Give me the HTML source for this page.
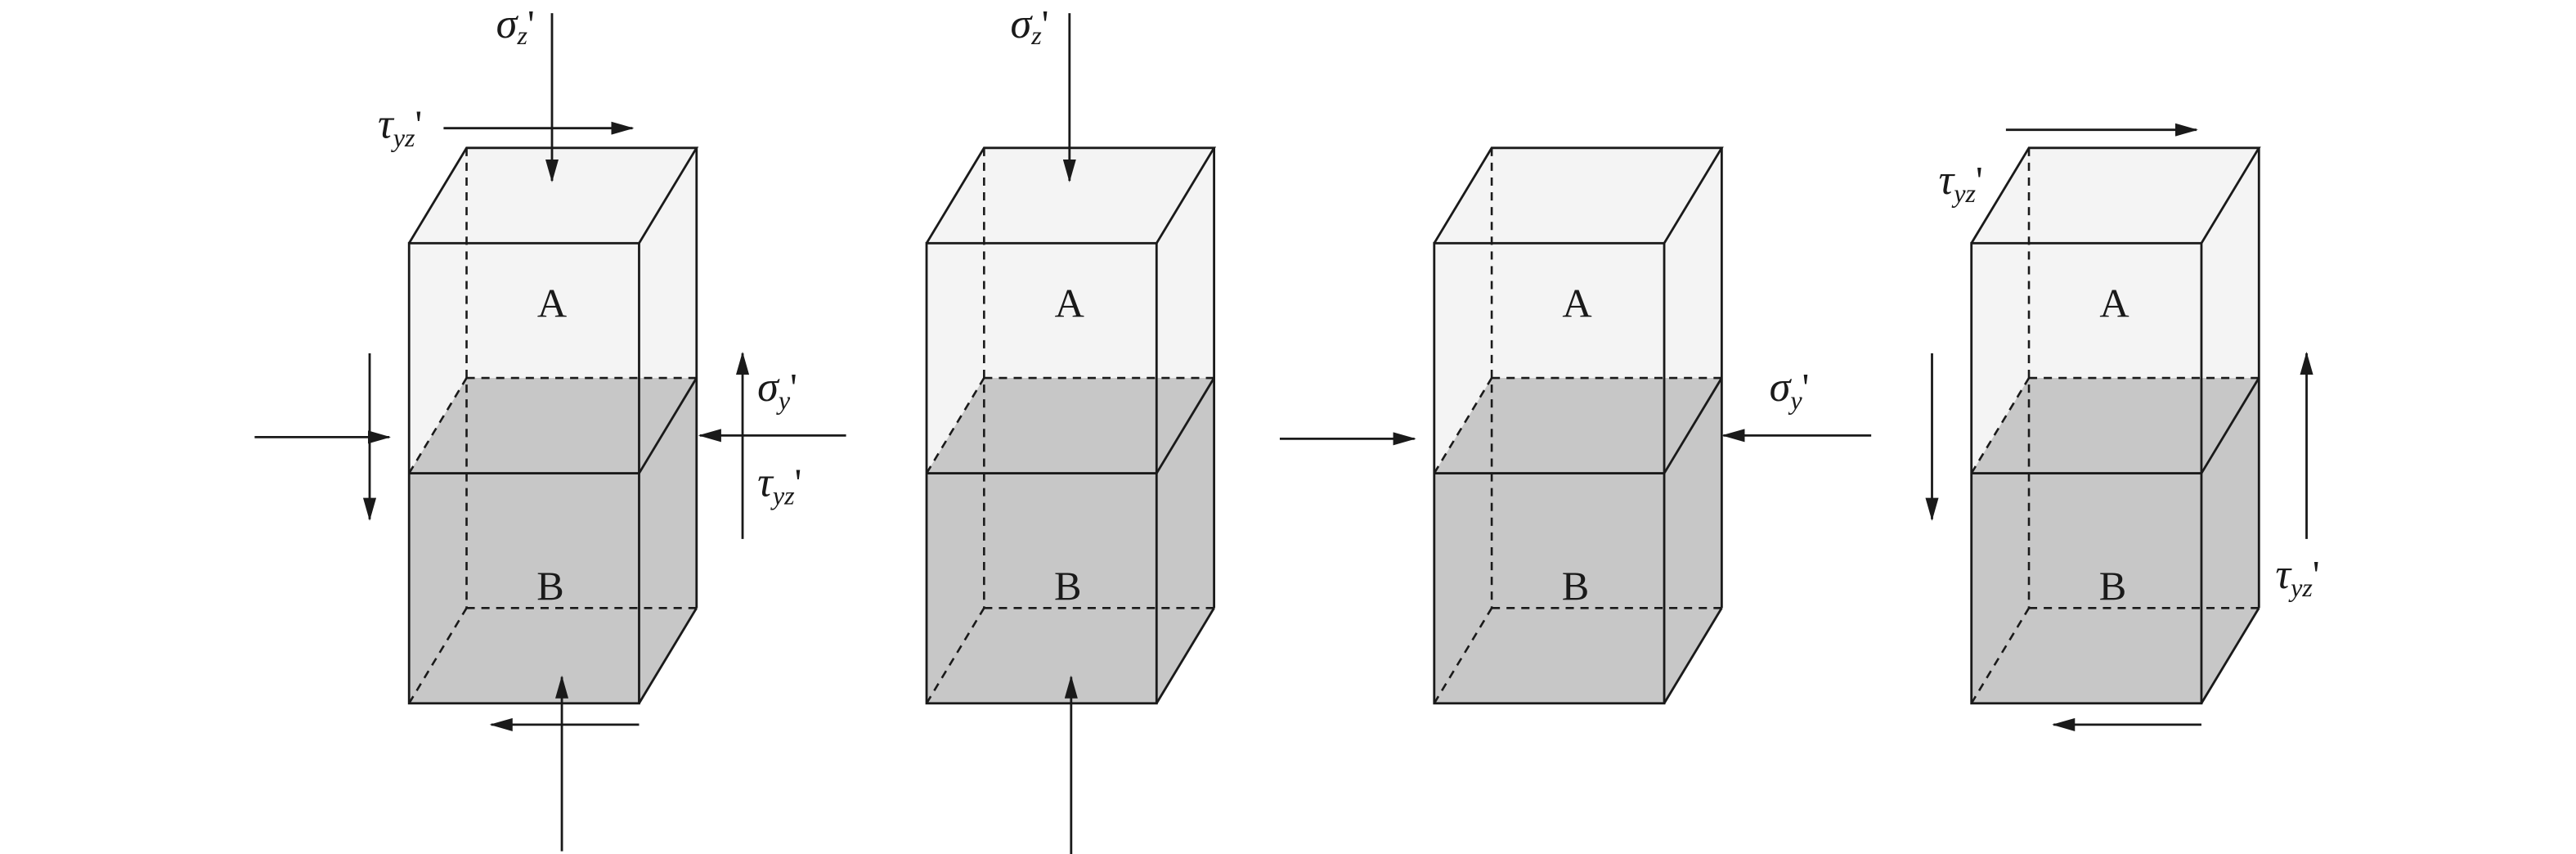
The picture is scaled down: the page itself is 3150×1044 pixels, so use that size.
<!DOCTYPE html>
<html><head><meta charset="utf-8"><style>
html,body{margin:0;padding:0;background:#fff;}
svg{display:block;}
text{font-family:"Liberation Serif",serif;fill:#1a1a1a;}
</style></head><body>
<svg width="3150" height="1044" viewBox="0 0 1568 519.7" preserveAspectRatio="none" xmlns="http://www.w3.org/2000/svg">
<defs>
<marker id="ah" markerWidth="14" markerHeight="8" refX="13" refY="4" orient="auto" markerUnits="userSpaceOnUse">
<path d="M0,0 L14,4 L0,8 Z" fill="#1a1a1a"/>
</marker>
<g id="box">
  <polygon points="0,148 140,148 140,288 0,288" fill="#f4f4f4"/>
  <polygon points="0,148 35,90 175,90 140,148" fill="#f4f4f4"/>
  <polygon points="140,148 175,90 175,230 140,288" fill="#f4f4f4"/>
  <polygon points="0,288 140,288 140,428 0,428" fill="#c7c7c7"/>
  <polygon points="0,288 35,230 175,230 140,288" fill="#c7c7c7"/>
  <polygon points="140,288 175,230 175,370 140,428" fill="#c7c7c7"/>
  <g stroke="#1a1a1a" stroke-width="1.3" fill="none" stroke-dasharray="5,4">
    <line x1="35" y1="90" x2="35" y2="370"/>
    <line x1="35" y1="230" x2="175" y2="230"/>
    <line x1="35" y1="370" x2="175" y2="370"/>
    <line x1="0" y1="288" x2="35" y2="230"/>
    <line x1="0" y1="428" x2="35" y2="370"/>
  </g>
  <g stroke="#1a1a1a" stroke-width="1.4" fill="none">
    <rect x="0" y="148" width="140" height="280"/>
    <line x1="0" y1="288" x2="140" y2="288"/>
    <polyline points="0,148 35,90 175,90 140,148"/>
    <line x1="175" y1="90" x2="175" y2="370"/>
    <line x1="140" y1="288" x2="175" y2="230"/>
    <line x1="140" y1="428" x2="175" y2="370"/>
  </g>
  <text x="87" y="193" font-size="25" text-anchor="middle">A</text>
  <text x="86" y="365" font-size="25" text-anchor="middle">B</text>
</g>
</defs>

<use href="#box" x="249"/>
<use href="#box" x="564"/>
<use href="#box" x="873"/>
<use href="#box" x="1200"/>

<g stroke="#1a1a1a" stroke-width="1.4" fill="none" marker-end="url(#ah)">
  <line x1="336" y1="8" x2="336" y2="110"/>
  <line x1="270" y1="78" x2="385" y2="78"/>
  <line x1="155" y1="266" x2="237" y2="266"/>
  <line x1="225" y1="215" x2="225" y2="316"/>
  <line x1="515" y1="265" x2="426" y2="265"/>
  <line x1="452" y1="328" x2="452" y2="215"/>
  <line x1="342" y1="518" x2="342" y2="412"/>
  <line x1="389" y1="441" x2="299" y2="441"/>
  <line x1="651" y1="8" x2="651" y2="110"/>
  <line x1="652" y1="520" x2="652" y2="412"/>
  <line x1="779" y1="267" x2="861" y2="267"/>
  <line x1="1139" y1="265" x2="1049" y2="265"/>
  <line x1="1221" y1="79" x2="1337" y2="79"/>
  <line x1="1176" y1="215" x2="1176" y2="316"/>
  <line x1="1404" y1="328" x2="1404" y2="215"/>
  <line x1="1340" y1="441" x2="1250" y2="441"/>
</g>

<g font-size="26" font-style="italic">
  <text x="302" y="23">σ<tspan font-size="16" dy="4">z</tspan><tspan font-style="normal" font-size="24" dy="-4">'</tspan></text>
  <text x="230" y="84">τ<tspan font-size="16" dy="5">yz</tspan><tspan font-style="normal" font-size="24" dy="-5">'</tspan></text>
  <text x="461" y="244">σ<tspan font-size="16" dy="5">y</tspan><tspan font-style="normal" font-size="24" dy="-5">'</tspan></text>
  <text x="461" y="302">τ<tspan font-size="16" dy="5">yz</tspan><tspan font-style="normal" font-size="24" dy="-5">'</tspan></text>
  <text x="615" y="23">σ<tspan font-size="16" dy="4">z</tspan><tspan font-style="normal" font-size="24" dy="-4">'</tspan></text>
  <text x="1077" y="244">σ<tspan font-size="16" dy="5">y</tspan><tspan font-style="normal" font-size="24" dy="-5">'</tspan></text>
  <text x="1180" y="118">τ<tspan font-size="16" dy="5">yz</tspan><tspan font-style="normal" font-size="24" dy="-5">'</tspan></text>
  <text x="1385" y="358">τ<tspan font-size="16" dy="5">yz</tspan><tspan font-style="normal" font-size="24" dy="-5">'</tspan></text>
</g>
</svg>
</body></html>
